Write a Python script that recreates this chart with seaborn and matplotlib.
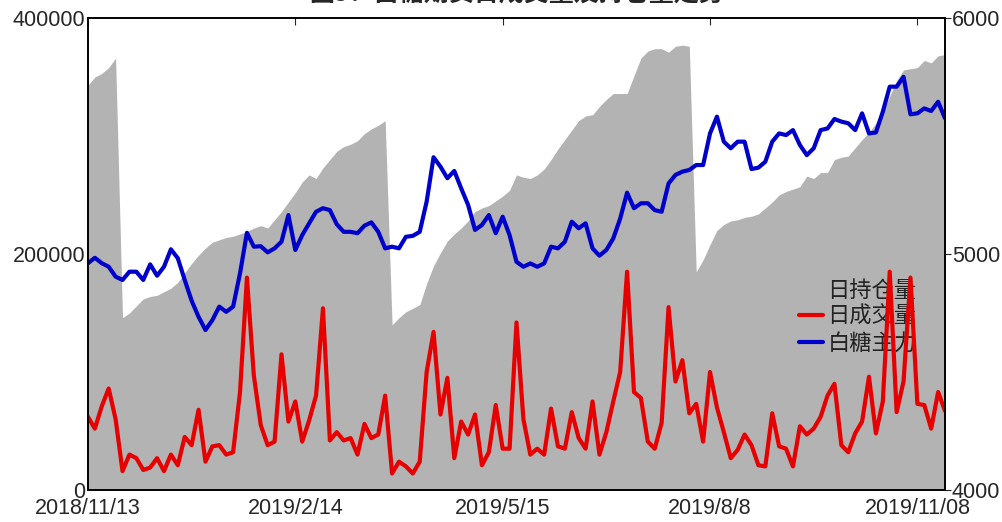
import numpy as np
import pandas as pd
import seaborn as sns
import matplotlib
matplotlib.use('Agg')
import matplotlib.pyplot as plt

# values sampled every 2 trading days, 2018/11/13 onward
open_interest_k = [343, 350, 353, 358, 366, 146, 150, 156, 162, 164, 165, 168, 171, 176, 184, 192,
                   199, 205, 210, 212, 214, 215, 217, 219, 222, 224, 222, 229, 236, 244, 252,
                   261, 267, 264, 273, 280, 287, 291, 293, 296, 302, 306, 309, 313, 140, 146, 151,
                   154, 157, 175, 190, 201, 211, 217, 222, 228, 236, 239, 241, 245, 249, 254,
                   267, 265, 264, 267, 272, 280, 289, 297, 305, 313, 317, 318, 325, 331, 336,
                   336, 336, 351, 366, 372, 374, 374, 371, 376, 377, 376, 185, 195, 208, 220,
                   225, 228, 229, 231, 232, 234, 239, 244, 250, 253, 255, 257, 266, 264, 269,
                   269, 280, 282, 283, 290, 297, 303, 311, 320, 334, 347, 356, 357, 358, 364,
                   362, 368, 369]
volume_k = [62, 52, 71, 86, 60, 16, 30, 27, 17, 19, 27, 16, 30, 21, 45, 38,
            68, 24, 37, 38, 30, 32, 83, 180, 97, 55, 38, 41, 115, 58, 75,
            41, 59, 80, 154, 42, 49, 42, 44, 30, 56, 44, 47, 80, 14, 24, 20,
            14, 24, 100, 134, 64, 95, 27, 58, 47, 64, 21, 32, 72, 35, 35,
            142, 60, 30, 35, 30, 69, 37, 35, 66, 44, 35, 75, 30, 49, 75,
            100, 185, 83, 78, 41, 35, 57, 155, 92, 110, 65, 73, 41, 100, 70,
            49, 27, 34, 47, 38, 21, 20, 65, 37, 35, 20, 54, 47, 52, 62,
            80, 90, 38, 32, 48, 58, 96, 48, 75, 185, 66, 92, 180, 73, 72,
            52, 83, 67]
price = [4961, 4984, 4961, 4946, 4904, 4890, 4925, 4925, 4890, 4956, 4908, 4946, 5020, 4982, 4890, 4802,
         4734, 4678, 4720, 4777, 4755, 4777, 4918, 5090, 5031, 5033, 5007, 5024, 5052, 5165, 5017,
         5080, 5130, 5179, 5194, 5186, 5126, 5094, 5094, 5088, 5120, 5134, 5094, 5024, 5031, 5024, 5073,
         5077, 5094, 5222, 5410, 5370, 5321, 5352, 5278, 5208, 5102, 5123, 5165, 5088, 5158, 5080,
         4967, 4946, 4960, 4946, 4960, 5031, 5024, 5052, 5137, 5109, 5130, 5024, 4993, 5017, 5066,
         5150, 5260, 5194, 5215, 5215, 5186, 5179, 5299, 5335, 5349, 5356, 5377, 5377, 5511, 5582,
         5476, 5448, 5476, 5476, 5360, 5366, 5391, 5476, 5511, 5504, 5525, 5462, 5419, 5448, 5525,
         5532, 5572, 5561, 5554, 5525, 5596, 5511, 5515, 5603, 5709, 5709, 5751, 5592, 5596, 5617,
         5606, 5645, 5575]
tick_days = [0, 60, 120, 180, 240]
tick_labels = ['2018/11/13', '2019/2/14', '2019/5/15', '2019/8/8', '2019/11/08']

df = pd.DataFrame({'oi': np.array(open_interest_k) * 1000,
                   'volume': np.array(volume_k) * 1000,
                   'price': price})
df['day'] = np.arange(len(df)) * 2

sns.set_style('ticks')
plt.rcParams['font.family'] = ['Liberation Sans', 'Noto Sans CJK SC']

fig = plt.figure(figsize=(10.03, 5.22), dpi=100)
ax = fig.add_axes([0.0877, 0.0613, 0.8545, 0.9042])
ax2 = ax.twinx()

area = ax.fill_between(df['day'], df['oi'], color='#b3b3b3', lw=0, label='日持仓量', zorder=1)
sns.lineplot(data=df, x='day', y='volume', color='#e60000', lw=3.0, ax=ax,
             label='日成交量', legend=False, zorder=3)
sns.lineplot(data=df, x='day', y='price', color='#0000cc', lw=3.0, ax=ax2,
             label='白糖主力', legend=False)

ax.set_xlim(0, 248)
ax.set_ylim(0, 400000)
ax2.set_ylim(4000, 6000)
ax.set_xticks(tick_days)
ax.set_xticklabels(tick_labels)
ax.set_yticks([0, 200000, 400000])
ax.set_yticklabels(['0', '200000', '400000'])
ax2.set_yticks([4000, 5000, 6000])
for a in (ax, ax2):
    a.set_xlabel('')
    a.set_ylabel('')
    for s in a.spines.values():
        s.set_visible(True)
        s.set_color('black')
        s.set_linewidth(1.2)

ax.tick_params(axis='x', direction='in', length=5, top=True, labelsize=15.5, pad=6)
ax.tick_params(axis='y', direction='in', length=0, labelsize=15.5, pad=2)
ax2.tick_params(axis='y', direction='out', length=4, labelsize=15.5, pad=1)

handles = [area, ax.get_lines()[0], ax2.get_lines()[0]]
leg = ax.legend(handles, ['日持仓量', '日成交量', '白糖主力'], loc='upper right',
                bbox_to_anchor=(0.99, 0.49), frameon=False,
                prop={'family': 'Noto Sans CJK SC', 'size': 16},
                handlelength=1.1, handletextpad=0.2, labelspacing=0.15)
leg.set_zorder(2)
for t in leg.get_texts():
    t.set_color('#222222')

fig.text(0.515, 1.0115, '图5：白糖期货日成交量及持仓量走势', ha='center', va='center',
         fontsize=18, fontweight='bold', family='Noto Sans CJK SC')

fig.savefig('out.png', dpi=100)
